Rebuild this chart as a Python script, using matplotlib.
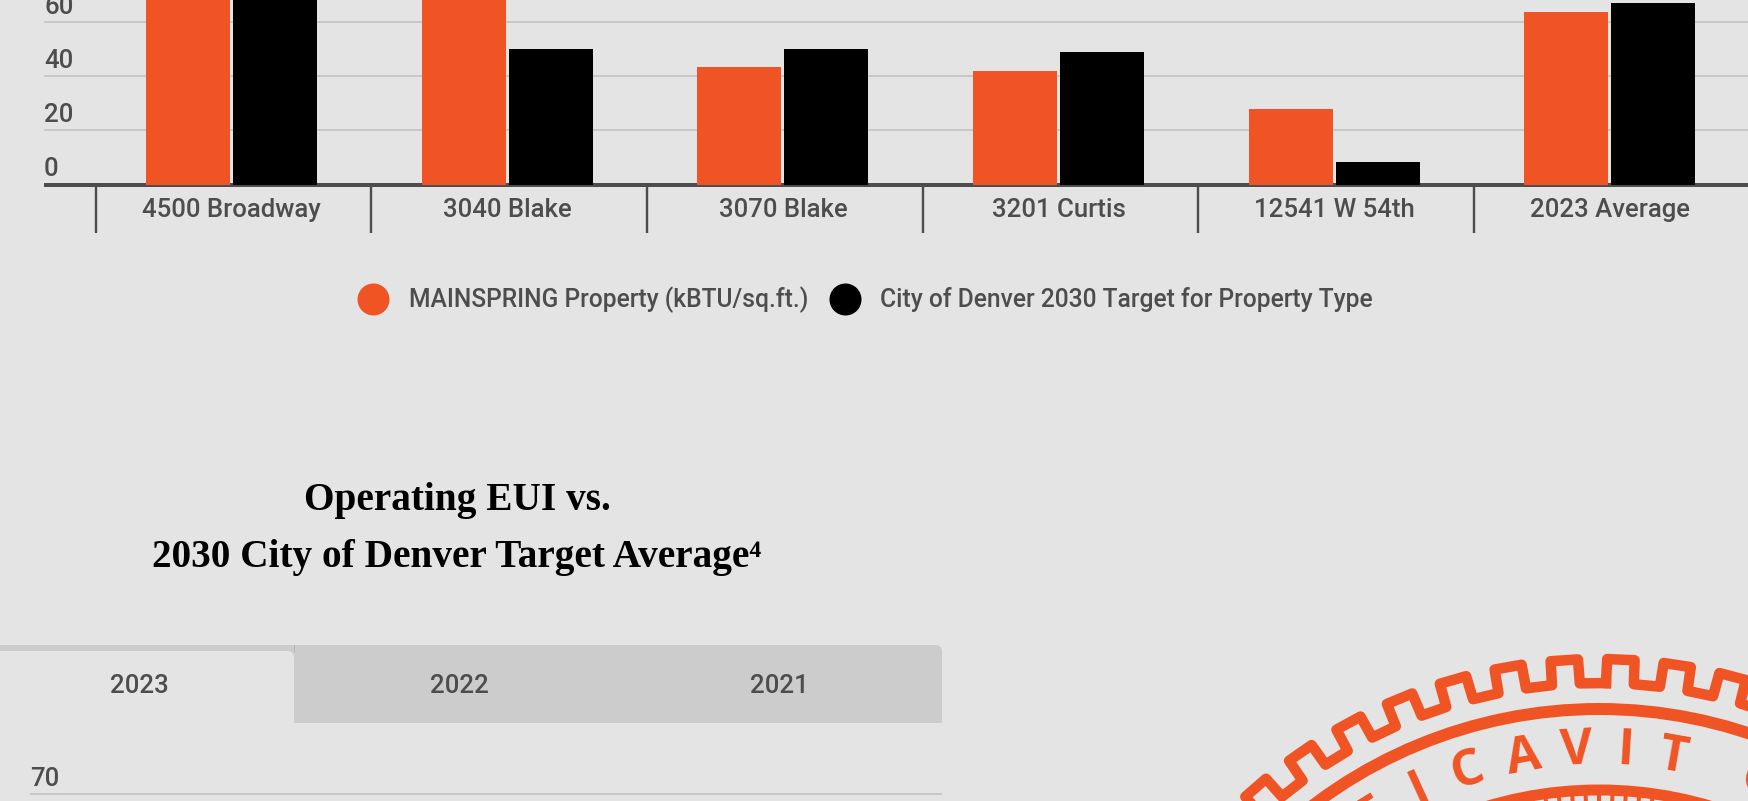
import numpy as np
import matplotlib
matplotlib.use("Agg")
import matplotlib.pyplot as plt
from matplotlib.lines import Line2D
from matplotlib.patches import Rectangle, FancyBboxPatch, Circle
from matplotlib.collections import LineCollection
from matplotlib.transforms import ScaledTranslation

W, H = 1749, 801
BG = "#e4e4e4"; ORANGE = "#f15424"; BLACK = "#000000"; INK = "#4d4d4d"
GRID = "#c8c8c8"; TAB = "#cccccc"

categories = ["4500 Broadway", "3040 Blake", "3070 Blake", "3201 Curtis", "12541 W 54th", "2023 Average"]
mainspring = [75, 78, 43.3, 41.7, 27.9, 63.6]   # first two run off the top of the crop: estimates
target = [74, 50, 50, 48.8, 8.3, 66.8]
y_ticks = [0, 20, 40, 60]
tabs = ["2023", "2022", "2021"]
series_names = ["MAINSPRING Property (kBTU/sq.ft.)", "City of Denver 2030 Target for Property Type"]
title_lines = ["Operating EUI vs.", "2030 City of Denver Target Average\u2074"]
seal_letters = ["F", "I", "C", "A", "V", "I", "T", "C"]
seal_angles = [-31.8, -24.6, -17.8, -10.1, -3.0, 3.5, 10.0, 21.5]

PX = 0.72  # points per pixel at dpi 100
FS = 25.8 * PX
plt.rcParams["font.family"] = ["Roboto", "DejaVu Sans"]
plt.rcParams["font.weight"] = "medium"
fig = plt.figure(figsize=(W / 100, H / 100), dpi=100, facecolor=BG)

def axes_px(x0, x1, ytop, ybot, **kw):
    return fig.add_axes([x0 / W, 1 - ybot / H, (x1 - x0) / W, (ybot - ytop) / H], **kw)

# Page-level decoration in pixel coordinates
deco = fig.add_axes([0, 0, 1, 1], zorder=0)
deco.set_xlim(0, W); deco.set_ylim(H, 0); deco.axis("off")

# Tabs
deco.add_patch(FancyBboxPatch((-30, 645), 972, 30, boxstyle="round,pad=0,rounding_size=7", fc=TAB, ec="none"))
deco.add_patch(Rectangle((-30, 655), 972, 68, fc=TAB, ec="none"))
deco.add_patch(FancyBboxPatch((-30, 651), 324, 100, boxstyle="round,pad=0,rounding_size=7", fc=BG, ec="none"))
deco.plot([294.5, 294.5], [645, 651], color="#b4b4b4", lw=0.7)
for t, cx in zip(tabs, [139, 459, 779]):
    deco.text(cx, 686, t, ha="center", va="center", fontsize=FS, color=INK)

# Title
title_font = ["Liberation Serif", "DejaVu Serif"]
for line, y in zip(title_lines, [500.5, 557.5]):
    deco.text(457, y, line, ha="center", va="center", fontsize=39.3 * PX, fontweight="bold", color="black", family=title_font)

# Seal
cx, cy = 1599, 1182
n_teeth = 58
period = 360 / n_teeth
phase = 2.4
angs, rads = [], []
for k in range(n_teeth):
    c = phase + k * period
    for a, r in [(c - period / 4 - 0.05, 499), (c - period / 4 + 0.05, 523), (c + period / 4 - 0.05, 523), (c + period / 4 + 0.05, 499)]:
        angs.append(a); rads.append(r)
angs = np.radians(angs + angs[:1]); rads = np.array(rads + rads[:1])
deco.plot(cx + rads * np.sin(angs), cy - rads * np.cos(angs), color=ORANGE, lw=10.5 * PX, solid_joinstyle="round")
deco.add_patch(Circle((cx, cy), 473, fc="none", ec=ORANGE, lw=12 * PX))
deco.add_patch(Circle((cx, cy), 392, fc="none", ec=ORANGE, lw=11 * PX))
tick_ang = np.radians(np.arange(-90, 90, 1.98) + 0.9)
segs = [[(cx + 388 * np.sin(a), cy - 388 * np.cos(a)), (cx + 360 * np.sin(a), cy - 360 * np.cos(a))] for a in tick_ang]
deco.add_collection(LineCollection(segs, colors=ORANGE, linewidths=4 * PX))
for ch, a in zip(seal_letters, seal_angles):
    rad = np.radians(a)
    deco.text(cx + 431 * np.sin(rad), cy - 431 * np.cos(rad), ch, rotation=-a, rotation_mode="anchor",
              ha="center", va="center", fontsize=50 * PX, color=ORANGE, family="Open Sans", fontweight="bold")

# Top chart
GROUP = 275.7
ax = axes_px(44, W, 0, 184.5, zorder=2, facecolor="none")
x = np.arange(len(categories))
ax.bar(x - 43.5 / GROUP, mainspring, 84 / GROUP, color=ORANGE, zorder=3, label=series_names[0])
ax.bar(x + 43.5 / GROUP, target, 84 / GROUP, color=BLACK, zorder=3, label=series_names[1])
ax.set_xlim((44 - 231.5) / GROUP, (W - 231.5) / GROUP)
ax.set_ylim(0, 184.5 / 2.71)
ax.set_yticks(y_ticks)
ax.set_xticks(x, categories)
ax.set_xticks(np.arange(len(categories)) - 0.5 + 2 / GROUP, minor=True)
ax.set_xlim((44 - 231.5) / GROUP, (W - 231.5) / GROUP)
ax.grid(axis="y", color=GRID, lw=2 * PX, zorder=1)
ax.set_axisbelow(True)
for s in ["top", "left", "right"]:
    ax.spines[s].set_visible(False)
ax.spines["bottom"].set_color(INK); ax.spines["bottom"].set_linewidth(4 * PX)
ax.spines["bottom"].set_capstyle("butt")
ax.tick_params(axis="y", length=0, pad=0, labelsize=FS, labelcolor=INK)
ax.tick_params(axis="x", which="major", length=0, pad=9.5, labelsize=FS, labelcolor=INK)
ax.tick_params(axis="x", which="minor", length=48 * PX, width=2.4 * PX, color=INK)
up = ScaledTranslation(0, 15 / 100, fig.dpi_scale_trans)
for lab in ax.get_yticklabels():
    lab.set_ha("left"); lab.set_va("center")
    lab.set_transform(lab.get_transform() + up)

# Legend
handles = [Line2D([], [], ls="none", marker="o", ms=32 * PX, mfc=c, mec="none") for c in (ORANGE, BLACK)]
fig.legend(handles, series_names, loc="center", bbox_to_anchor=(865 / W, 1 - 300 / H), ncol=2, frameon=False,
           prop={"size": 24.6 * PX, "weight": "medium"}, labelcolor=INK, handlelength=1.3, handletextpad=0.8,
           columnspacing=0.84, borderpad=0, borderaxespad=0)

# Second chart (only its top gridline is in frame)
ax2 = axes_px(30, 942, 770, H, zorder=2, facecolor="none")
ax2.set_xlim(0, 1)
ax2.set_ylim(70 - 7 / 2.7, 70 + 24 / 2.7)
ax2.set_yticks([70]); ax2.set_xticks([])
ax2.grid(axis="y", color=GRID, lw=2 * PX)
for s in ax2.spines.values():
    s.set_visible(False)
ax2.tick_params(axis="y", length=0, pad=0, labelsize=FS, labelcolor=INK)
up2 = ScaledTranslation(0, 15 / 100, fig.dpi_scale_trans)
for lab in ax2.get_yticklabels():
    lab.set_ha("left"); lab.set_va("center")
    lab.set_transform(lab.get_transform() + up2)

fig.savefig("out.png", dpi=100, facecolor=BG)
